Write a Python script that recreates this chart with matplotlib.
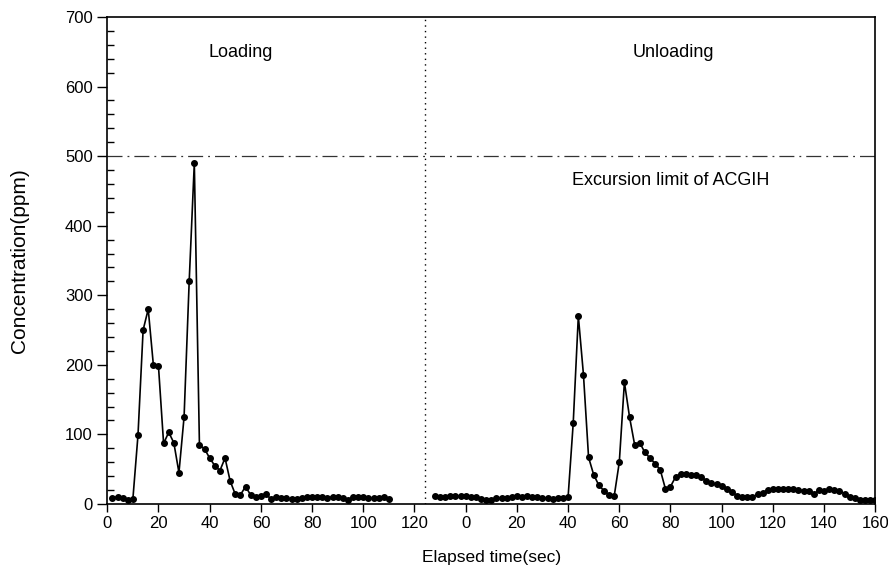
import matplotlib
matplotlib.use("Agg")
import matplotlib.pyplot as plt
from matplotlib.ticker import MultipleLocator

plt.rcParams['font.family'] = ['Liberation Sans', 'DejaVu Sans']

# Loading period (time in sec, concentration in ppm)
load_time = list(range(2, 112, 2))
load_conc = [9, 10, 8, 6, 7, 99, 250, 280, 200, 198,
             87, 103, 88, 45, 125, 320, 490, 85, 79, 66,
             55, 48, 66, 33, 14, 13, 25, 13, 10, 11,
             14, 7, 10, 9, 8, 7, 7, 9, 10, 10,
             10, 10, 9, 10, 10, 8, 5, 10, 10, 10,
             9, 8, 9, 10, 7]

# Unloading period
unload_time = list(range(-12, 162, 2))
unload_conc = [12, 10, 10, 11, 11, 11,
               12, 10, 10, 7, 6, 6, 8, 8, 8, 10,
               11, 10, 11, 10, 10, 9, 8, 7, 8, 8, 10,
               116, 270, 186, 67, 42, 27, 19, 13, 11, 60,
               175, 125, 85, 88, 74, 66, 58, 49, 22, 25,
               39, 43, 43, 42, 42, 39, 33, 30, 28, 26,
               22, 17, 12, 10, 10, 10, 14, 16, 20, 21,
               22, 22, 21, 21, 20, 19, 19, 14, 20, 19,
               21, 20, 19, 15, 10, 8, 6, 6, 6, 6]

load_ticks = [0, 20, 40, 60, 80, 100, 120]
unload_ticks = [0, 20, 40, 60, 80, 100, 120, 140, 160]
offset = 140  # unloading axis drawn to the right of the loading one
limit = 500

fig = plt.figure(figsize=(8.88, 5.74), dpi=100)
ax = fig.add_axes([0.1208, 0.1220, 0.8649, 0.8484])

ax.plot(load_time, load_conc, color='black', lw=1.2,
        marker='o', markersize=4)
ax.plot([t + offset for t in unload_time], unload_conc, color='black', lw=1.2,
        marker='o', markersize=4)

ax.axhline(limit, color='#333333', lw=0.9, linestyle=(0, (12, 4, 1.5, 4)))
ax.axvline(124, color='black', lw=1.0, linestyle=(0, (1, 3)))

ax.set_xlim(0, 300)
ax.set_ylim(0, 700)
ticks = load_ticks + [t + offset for t in unload_ticks]
labels = [str(t) for t in load_ticks] + [str(t) for t in unload_ticks]
ax.set_xticks(ticks)
ax.set_xticklabels(labels)
ax.yaxis.set_major_locator(MultipleLocator(100))
ax.yaxis.set_minor_locator(MultipleLocator(20))
ax.tick_params(axis='x', direction='out', length=6, width=1, labelsize=12, pad=3)
ax.tick_params(axis='y', which='major', direction='out', length=7, width=1, labelsize=12)
ax.tick_params(axis='y', which='minor', direction='in', length=5, width=1)

for s in ax.spines.values():
    s.set_linewidth(1.2)

ax.text(52, 643, 'Loading', ha='center', va='baseline', fontsize=13)
ax.text(offset + 81, 643, 'Unloading', ha='center', va='baseline', fontsize=13)
ax.text(offset + 80, 458, 'Excursion limit of ACGIH', ha='center', va='baseline', fontsize=13)

ax.set_xlabel('Elapsed time(sec)', fontsize=12.5, labelpad=13)
ax.set_ylabel('Concentration(ppm)', fontsize=15, labelpad=26)

fig.savefig('out.png', dpi=100)
